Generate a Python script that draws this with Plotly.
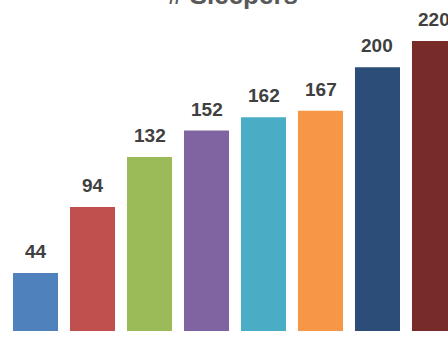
import plotly.graph_objects as go

categories = ["A", "B", "C", "D", "E", "F", "G", "H"]
values = [44, 94, 132, 152, 162, 167, 200, 220]
colors = ["#4F81BD", "#C0504D", "#9BBB59", "#8064A2", "#4BACC6", "#F79646", "#2C4D77", "#772C2A"]
title_text = "# Sleepers"

fig = go.Figure()
fig.add_trace(go.Bar(x=list(range(len(categories))), y=values, marker=dict(color=colors, line=dict(width=0)),
                     hoverinfo="skip"))

for i, v in enumerate(values):
    fig.add_annotation(x=i, y=v, text="<b>" + str(v) + "</b>", showarrow=False, yanchor="bottom", yshift=9,
                       font=dict(family="Liberation Sans", size=19, color="#404040"))

fig.update_layout(
    width=448, height=339,
    margin=dict(l=0, r=0, t=0, b=8),
    paper_bgcolor="white", plot_bgcolor="white",
    bargap=0.21,
    showlegend=False,
    title=dict(text="<b>" + title_text + "</b>", x=233/448, xref="container", xanchor="center",
               y=1 - 4/339, yref="container", yanchor="bottom",
               font=dict(family="Liberation Sans", size=26, color="#595959")),
    xaxis=dict(range=[-0.623, 7.237], visible=False, fixedrange=True),
    yaxis=dict(range=[0, 251], visible=False, fixedrange=True),
)

fig.write_html("out.html", config={"displayModeBar": False},
               post_script="document.body.style.margin='0';document.body.style.overflow='hidden';")
